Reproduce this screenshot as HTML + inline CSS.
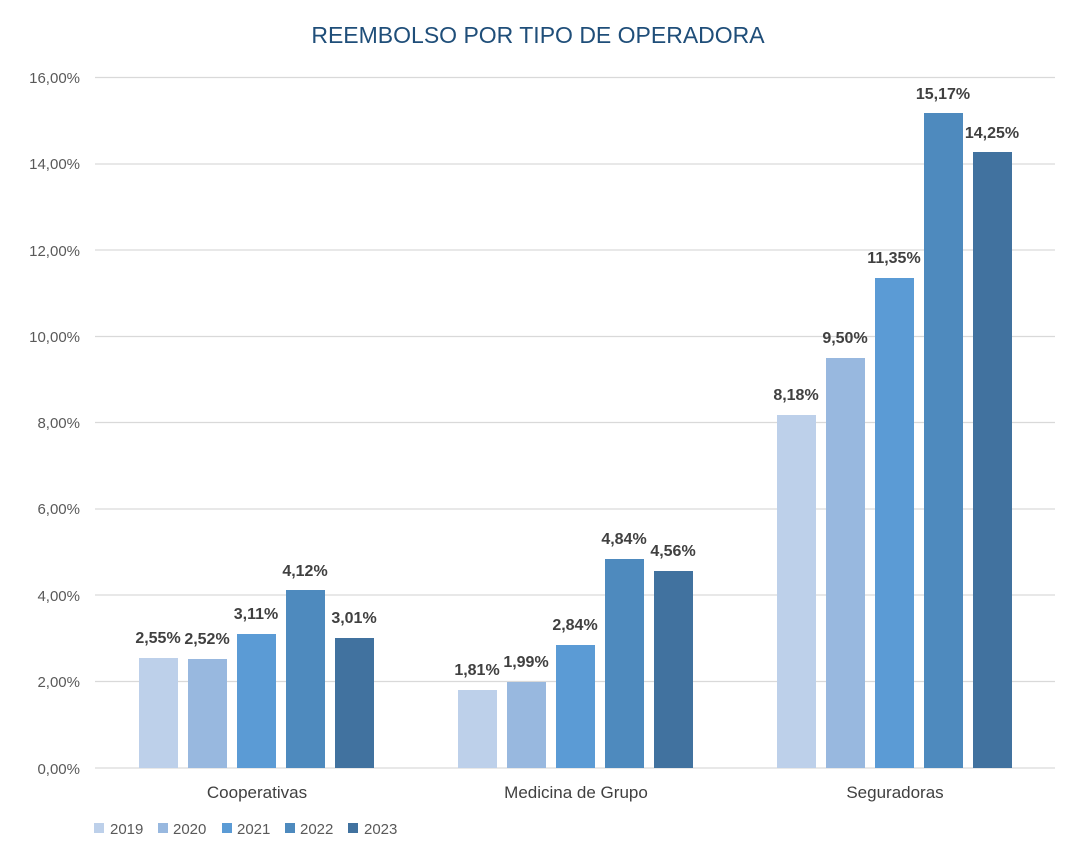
<!DOCTYPE html>
<html><head><meta charset="utf-8"><style>
body{margin:0;background:#fff}
svg{display:block;font-family:"Liberation Sans",sans-serif}
</style></head><body>
<svg width="1077" height="864" viewBox="0 0 1077 864">
<rect width="1077" height="864" fill="#fff"/>
<text x="538" y="43" text-anchor="middle" font-size="23" fill="#1F4E79">REEMBOLSO POR TIPO DE OPERADORA</text>
<g stroke="#D9D9D9" stroke-width="1.3">
<line x1="95" x2="1055" y1="77.5" y2="77.5"/><line x1="95" x2="1055" y1="164" y2="164"/>
<line x1="95" x2="1055" y1="250" y2="250"/><line x1="95" x2="1055" y1="336.5" y2="336.5"/>
<line x1="95" x2="1055" y1="422.5" y2="422.5"/><line x1="95" x2="1055" y1="509" y2="509"/>
<line x1="95" x2="1055" y1="595" y2="595"/><line x1="95" x2="1055" y1="681.5" y2="681.5"/>
<line x1="95" x2="1055" y1="768" y2="768"/>
</g>
<g font-size="15" fill="#595959" text-anchor="end">
<text x="80" y="83">16,00%</text><text x="80" y="169">14,00%</text><text x="80" y="256">12,00%</text>
<text x="80" y="342">10,00%</text><text x="80" y="428">8,00%</text><text x="80" y="514">6,00%</text>
<text x="80" y="601">4,00%</text><text x="80" y="687">2,00%</text><text x="80" y="774">0,00%</text>
</g>
<g>
<rect x="139" y="658" width="39" height="110" fill="#BDD0EA"/>
<rect x="188" y="659" width="39" height="109" fill="#98B8DF"/>
<rect x="237" y="634" width="39" height="134" fill="#5B9BD5"/>
<rect x="286" y="590" width="39" height="178" fill="#4E8ABE"/>
<rect x="335" y="638" width="39" height="130" fill="#41729F"/>
<rect x="458" y="690" width="39" height="78" fill="#BDD0EA"/>
<rect x="507" y="682" width="39" height="86" fill="#98B8DF"/>
<rect x="556" y="645" width="39" height="123" fill="#5B9BD5"/>
<rect x="605" y="559" width="39" height="209" fill="#4E8ABE"/>
<rect x="654" y="571" width="39" height="197" fill="#41729F"/>
<rect x="777" y="415" width="39" height="353" fill="#BDD0EA"/>
<rect x="826" y="358" width="39" height="410" fill="#98B8DF"/>
<rect x="875" y="278" width="39" height="490" fill="#5B9BD5"/>
<rect x="924" y="113" width="39" height="655" fill="#4E8ABE"/>
<rect x="973" y="152" width="39" height="616" fill="#41729F"/>
</g>
<g font-size="16" font-weight="bold" fill="#404040" text-anchor="middle">
<text x="158" y="643">2,55%</text><text x="207" y="644">2,52%</text><text x="256" y="619">3,11%</text>
<text x="305" y="576">4,12%</text><text x="354" y="623">3,01%</text>
<text x="477" y="675">1,81%</text><text x="526" y="667">1,99%</text><text x="575" y="630">2,84%</text>
<text x="624" y="544">4,84%</text><text x="673" y="556">4,56%</text>
<text x="796" y="400">8,18%</text><text x="845" y="343">9,50%</text><text x="894" y="263">11,35%</text>
<text x="943" y="99">15,17%</text><text x="992" y="138">14,25%</text>
</g>
<g font-size="17" fill="#404040" text-anchor="middle">
<text x="257" y="798">Cooperativas</text><text x="576" y="798">Medicina de Grupo</text><text x="895" y="798">Seguradoras</text>
</g>
<g font-size="15" fill="#595959">
<rect x="94" y="823" width="10" height="10" fill="#BDD0EA"/><text x="110" y="834">2019</text>
<rect x="158" y="823" width="10" height="10" fill="#98B8DF"/><text x="173" y="834">2020</text>
<rect x="222" y="823" width="10" height="10" fill="#5B9BD5"/><text x="237" y="834">2021</text>
<rect x="285" y="823" width="10" height="10" fill="#4E8ABE"/><text x="300" y="834">2022</text>
<rect x="348" y="823" width="10" height="10" fill="#41729F"/><text x="364" y="834">2023</text>
</g>
</svg>
</body></html>
